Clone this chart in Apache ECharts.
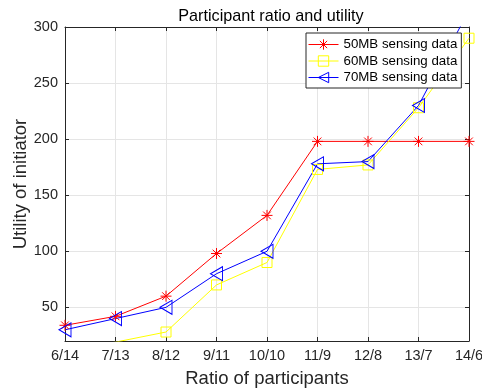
<!DOCTYPE html>
<html><head><meta charset="utf-8">
<script src="https://cdn.jsdelivr.net/npm/echarts@6/dist/echarts.min.js"></script>
<style>html,body{margin:0;padding:0;background:#fff}#c{width:482px;height:390px}</style>
</head><body><div id="c"></div>
<script>
var categories = ['6/14','7/13','8/12','9/11','10/10','11/9','12/8','13/7','14/6'];
var s50 = [34, 42, 60, 98, 132, 198, 198, 198, 198];
var s60 = [12, 19, 28, 70, 90, 173, 177, 228, 290];
var s70 = [30, 40, 50, 80, 100, 178, 180, 230, 315];
var names = ['50MB sensing data','60MB sensing data','70MB sensing data'];

var font = 'Liberation Sans, Arial, sans-serif';
var txt = '#262626';
var chart = echarts.init(document.getElementById('c'));
function xAx(pos, show){
  return {type:'category', data:categories, boundaryGap:false, position:pos,
    axisLine:{show:true, lineStyle:{color:txt, width:1}},
    axisTick:{show:true, inside:true, length:4, alignWithLabel:true, lineStyle:{color:txt}},
    axisLabel:{show:show, color:txt, fontFamily:font, fontSize:14.5, margin:7, interval:0},
    splitLine:{show:show, lineStyle:{color:'#e5e5e5'}},
    name: show ? 'Ratio of participants' : '', nameLocation:'middle', nameGap:28, nameMoveOverlap:false,
    nameTextStyle:{color:txt, fontFamily:font, fontSize:18.5}};
}
function yAx(pos, show){
  return {type:'value', min:20, max:300, position:pos,
    axisLine:{show:true, lineStyle:{color:txt, width:1}},
    axisTick:{show:true, inside:true, length:4, lineStyle:{color:txt}},
    axisLabel:{show:show, color:txt, fontFamily:font, fontSize:14.5, margin:7, showMinLabel:false},
    splitLine:{show:show, lineStyle:{color:'#e5e5e5'}},
    name: show ? 'Utility of initiator' : '', nameLocation:'middle', nameGap:35, nameMoveOverlap:false,
    nameTextStyle:{color:txt, fontFamily:font, fontSize:18.5}};
}
var star = 'path://M5,0L5,10M0,5L10,5M1.5,1.5L8.5,8.5M8.5,1.5L1.5,8.5';
var tri = 'path://M0,6L10,0L10,12Z';
chart.setOption({
  animation:false,
  title:{text:'Participant ratio and utility', left:266, textAlign:'center', top:4,
    textStyle:{color:'#000', fontFamily:font, fontSize:16.2, fontWeight:'normal'}},
  grid:{left:65, right:13, top:27, bottom:49, containLabel:false, outerBoundsMode:'none'},
  xAxis:[xAx('bottom', true), xAx('top', false)],
  yAxis:[yAx('left', true), yAx('right', false)],
  legend:{orient:'vertical', left:306, top:33, padding:[5,4,4,2], itemGap:3.5, itemWidth:30, itemHeight:13,
    backgroundColor:'#fff', borderColor:'#262626', borderWidth:1, borderRadius:0,
    lineStyle:{width:1}, itemStyle:{borderWidth:1},
    textStyle:{color:'#000', fontFamily:font, fontSize:13.3}, data:names},
  series:[
    {name:names[0], type:'line', data:s50, symbol:star, symbolSize:11,
      lineStyle:{color:'#ff0000', width:1}, itemStyle:{color:'#ff0000', borderColor:'#ff0000', borderWidth:1}},
    {name:names[1], type:'line', data:s60, symbol:'rect', symbolSize:10,
      lineStyle:{color:'#ffff00', width:1}, itemStyle:{color:'rgba(255,255,255,0)', borderColor:'#ffff00', borderWidth:1}},
    {name:names[2], type:'line', data:s70, symbol:tri, symbolSize:[12,14],
      lineStyle:{color:'#0000ff', width:1}, itemStyle:{color:'rgba(255,255,255,0)', borderColor:'#0000ff', borderWidth:1}}
  ]
});
</script></body></html>
